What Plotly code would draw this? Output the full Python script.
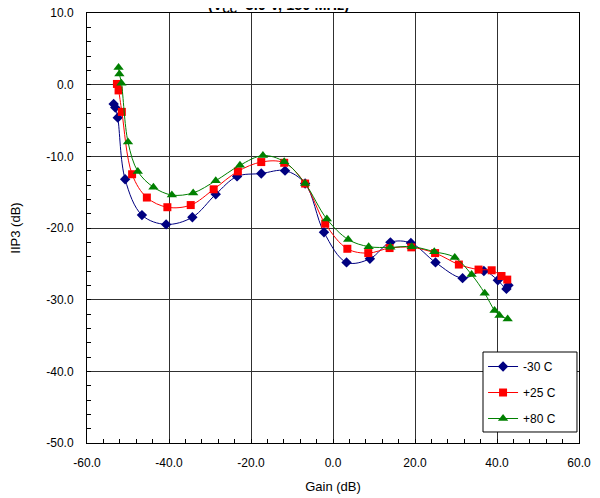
import plotly.graph_objects as go

# -30 C
x_m30 = [-53.5, -53.1, -52.5, -50.7, -46.6, -40.7, -34.3, -28.6, -23.4, -17.5, -11.7, -6.8, -2.2, 3.3, 9.0, 14.0, 19.0, 25.0, 31.6, 36.8, 40.2, 42.3, 42.8]
y_m30 = [-2.7, -3.2, -4.6, -13.2, -18.2, -19.5, -18.5, -15.3, -12.8, -12.4, -12.0, -13.8, -20.6, -24.8, -24.3, -22.0, -22.1, -24.8, -27.0, -26.0, -27.3, -28.5, -28.0]

# +25 C
x_p25 = [-52.7, -52.3, -51.5, -49.0, -45.4, -40.4, -34.7, -29.1, -23.2, -17.5, -11.9, -6.8, -1.9, 3.5, 8.6, 13.8, 19.1, 24.9, 30.7, 35.5, 38.7, 41.1, 42.5]
y_p25 = [0.1, -0.8, -3.8, -12.5, -15.75, -17.1, -16.8, -14.6, -12.1, -10.8, -10.9, -13.8, -19.4, -22.9, -23.5, -22.8, -22.7, -23.5, -25.1, -25.8, -25.9, -26.7, -27.2]

# +80 C
x_p80 = [-52.3, -52.1, -51.6, -50.0, -47.6, -43.8, -39.3, -34.1, -28.6, -22.7, -17.1, -11.9, -6.8, -1.5, 3.7, 8.7, 14.0, 19.2, 24.7, 29.7, 33.8, 37.0, 39.4, 40.6, 42.6]
y_p80 = [2.4, 1.5, 0.2, -8.0, -12.1, -14.3, -15.4, -15.1, -13.4, -11.25, -9.9, -10.75, -13.8, -18.75, -21.6, -22.6, -22.7, -22.6, -23.3, -24.1, -26.5, -29.1, -31.5, -32.2, -32.7]

# tick labels
x_tickvals = [-60, -40, -20, 0, 20, 40, 60]
x_ticktext = ["-60.0", "-40.0", "-20.0", "0.0", "20.0", "40.0", "60.0"]
y_tickvals = [-50, -40, -30, -20, -10, 0, 10]
y_ticktext = ["-50.0", "-40.0", "-30.0", "-20.0", "-10.0", "0.0", "10.0"]

series = [
    ("-30 C", x_m30, y_m30, "#000080", "diamond", 8),
    ("+25 C", x_p25, y_p25, "#FF0000", "square", 8),
    ("+80 C", x_p80, y_p80, "#008000", "triangle-up", 9),
]

fig = go.Figure()
for i, (name, xs, ys, col, sym, sz) in enumerate(series):
    fig.add_trace(go.Scatter(
        x=xs, y=ys, name=name, mode="lines+markers",
        line=dict(color=col, width=1, shape="spline", smoothing=1.0),
        marker=dict(color=col, symbol=sym, size=sz),
        legendgroup=f"g{i}",
    ))

FONT = "Liberation Sans, Arial"
axis_common = dict(
    showline=True, linecolor="black", linewidth=1, mirror=True,
    ticks="inside", ticklen=4, tickcolor="black",
    showgrid=True, gridcolor="#303030", gridwidth=1,
    zeroline=False, automargin=False, ticklabeloverflow="allow",
    tickfont=dict(family=FONT, size=12, color="black"),
)

fig.update_xaxes(
    range=[-60, 60], tickmode="array", tickvals=x_tickvals, ticktext=x_ticktext,
    ticklabelstandoff=9,
    minor=dict(tickmode="linear", tick0=-60, dtick=4, ticks="inside", ticklen=4, tickcolor="black", showgrid=False),
    title=dict(text="Gain (dB)", font=dict(family=FONT, size=13, color="black"), standoff=12),
    **axis_common,
)
fig.update_yaxes(
    range=[-50, 10], tickmode="array", tickvals=y_tickvals, ticktext=y_ticktext,
    ticklabelstandoff=10,
    minor=dict(tickmode="linear", tick0=-50, dtick=2, ticks="inside", ticklen=4, tickcolor="black", showgrid=False),
    title=dict(text="IIP3 (dB)", font=dict(family=FONT, size=13, color="black"), standoff=27),
    **axis_common,
)

fig.add_annotation(
    text="<b>(V<sub>CC</sub>=3.0 V, 150 MHz)</b>",
    xref="paper", yref="paper", x=0.389, y=0.9915, yanchor="bottom", xanchor="center",
    showarrow=False, font=dict(family=FONT, size=14.5, color="black"),
)

# legend frame
fig.add_shape(
    type="rect", xref="paper", yref="paper",
    x0=0.8049, x1=0.9959, y0=0.0256, y1=0.2116,
    line=dict(color="black", width=1), fillcolor="white", layer="above",
)

fig.update_layout(
    width=592, height=490,
    margin=dict(l=79, r=21, t=5, b=55, autoexpand=False),
    plot_bgcolor="white", paper_bgcolor="white",
    font=dict(family=FONT, size=12, color="black"),
    showlegend=True,
    legend=dict(
        x=0.805, y=0.2116, xanchor="left", yanchor="top",
        borderwidth=0, bgcolor="rgba(0,0,0,0)",
        traceorder="grouped", tracegroupgap=7, itemwidth=30,
        font=dict(family=FONT, size=12, color="black"),
    ),
)

fig.write_html("out.html")
